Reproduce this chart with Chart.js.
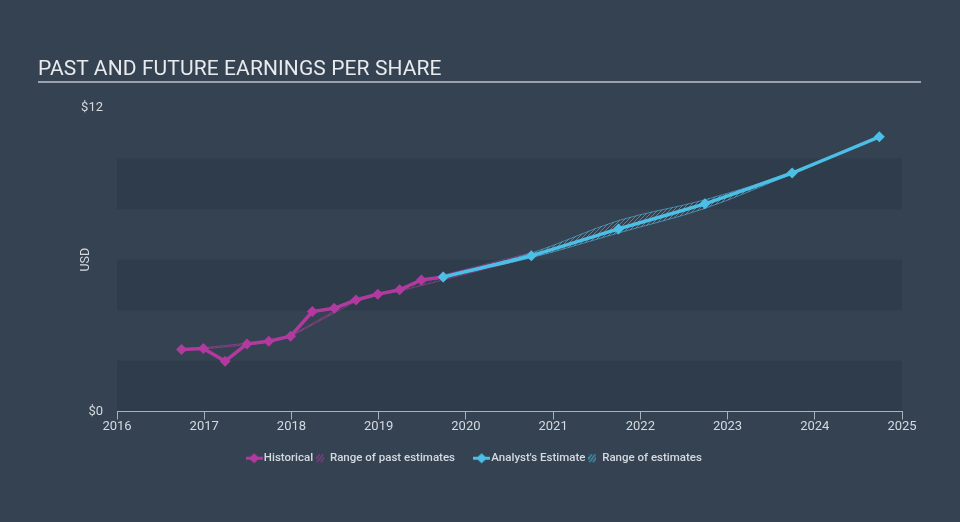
<!DOCTYPE html>
<html>
<head>
<meta charset="utf-8">
<script src="https://cdn.jsdelivr.net/npm/chart.js@4.4.1/dist/chart.umd.min.js"></script>
<style>
  html, body { margin: 0; padding: 0; background: #344252; }
  #wrap { position: relative; width: 960px; height: 522px; background: #344252; overflow: hidden; }
  #title { position: absolute; left: 38px; top: 56px; width: 883px; font-family: Roboto, sans-serif; font-size: 21px; color: #e8eaed; line-height: 24px; padding-bottom: 1px; border-bottom: 2px solid #9aa3ad; letter-spacing: 0.1px; }
  canvas { position: absolute; left: 0; top: 0; }
</style>
</head>
<body>
<div id="wrap">
  <canvas id="c" width="960" height="522"></canvas>
  <div id="title">PAST AND FUTURE EARNINGS PER SHARE</div>
</div>
<script>
// ---- data ----
const xTickYears = [2016, 2017, 2018, 2019, 2020, 2021, 2022, 2023, 2024, 2025];
const yTickValues = [0, 12];

const histX   = [2016.74, 2016.99, 2017.24, 2017.49, 2017.74, 2017.99, 2018.24, 2018.49, 2018.74, 2018.99, 2019.24, 2019.49, 2019.74];
const histEPS = [2.45, 2.49, 1.99, 2.67, 2.78, 2.98, 3.95, 4.08, 4.41, 4.64, 4.81, 5.20, 5.32];

const estX   = [2019.74, 2020.75, 2021.75, 2022.74, 2023.74, 2024.74];
const estEPS = [5.32, 6.16, 7.22, 8.21, 9.43, 10.86];

const pastRangeX    = [2016.74, 2016.99, 2017.49, 2017.74, 2017.99, 2018.74, 2018.99, 2019.24, 2019.74, 2020.75];
const pastRangeHigh = [2.45, 2.52, 2.70, 2.80, 3.00, 4.45, 4.67, 4.86, 5.40, 6.28];
const pastRangeLow  = [2.45, 2.47, 2.64, 2.75, 2.96, 4.36, 4.60, 4.76, 5.20, 6.10];

const estRangeX    = [2019.74, 2020.75, 2021.75, 2022.74, 2023.74, 2024.74];
const estRangeHigh = [5.32, 6.26, 7.55, 8.37, 9.46, 10.86];
const estRangeLow  = [5.32, 6.08, 7.06, 8.03, 9.40, 10.86];

// ---- styles ----
const PURPLE = '#b23a9f';
const CYAN = '#4bbfe6';
const BAND = 'rgba(30,40,54,0.2)';
const bandRanges = [[0, 2], [4, 6], [8, 10]];
const TEXT = '#d5dae0';
const AXIS = '#a9b1bb';

function pts(xs, ys) { return xs.map((x, i) => ({ x: x, y: ys[i] })); }

function hatch(color, size) {
  const c = document.createElement('canvas');
  c.width = size; c.height = size;
  const g = c.getContext('2d');
  g.strokeStyle = color; g.lineWidth = 1;
  g.beginPath();
  g.moveTo(0, size); g.lineTo(size, 0);
  g.moveTo(-1, 1); g.lineTo(1, -1);
  g.moveTo(size - 1, size + 1); g.lineTo(size + 1, size - 1);
  g.stroke();
  return document.getElementById('c').getContext('2d').createPattern(c, 'repeat');
}

function lineIcon(color) {
  const c = document.createElement('canvas');
  c.width = 17; c.height = 11;
  const g = c.getContext('2d');
  g.fillStyle = color; g.strokeStyle = color; g.lineWidth = 3;
  g.beginPath(); g.moveTo(0, 5.5); g.lineTo(17, 5.5); g.stroke();
  g.beginPath(); g.moveTo(8.5, 0.5); g.lineTo(14, 5.5); g.lineTo(8.5, 10.5); g.lineTo(3, 5.5); g.closePath(); g.fill();
  return c;
}
function hatchIcon(color) {
  const c = document.createElement('canvas');
  c.width = 8; c.height = 10;
  const g = c.getContext('2d');
  g.strokeStyle = color; g.lineWidth = 1.2;
  g.beginPath();
  for (let k = -6; k < 10; k += 3.5) { g.moveTo(k, 9); g.lineTo(k + 6, 1); }
  g.stroke();
  return c;
}
function blankIcon() { const c = document.createElement('canvas'); c.width = 1; c.height = 1; return c; }

const bandPlugin = {
  id: 'bands',
  beforeDraw(chart) {
    const { ctx, chartArea, scales } = chart;
    const y = scales.y;
    ctx.save();
    ctx.fillStyle = BAND;
    for (const [a, b] of bandRanges) {
      const top = y.getPixelForValue(b), bot = y.getPixelForValue(a);
      ctx.fillRect(chartArea.left, top, chartArea.right - chartArea.left, bot - top);
    }
    ctx.restore();
  }
};

const legendItems = [
  { text: 'Historical', pointStyle: lineIcon(PURPLE) },
  { text: 'Range of past estimates', pointStyle: hatchIcon('rgba(178,58,159,0.85)') },
  { text: ' ', pointStyle: blankIcon() },
  { text: "Analyst's Estimate", pointStyle: lineIcon(CYAN) },
  { text: 'Range of estimates', pointStyle: hatchIcon('rgba(75,191,230,0.85)') }
];

new Chart(document.getElementById('c'), {
  type: 'line',
  data: {
    datasets: [
      { label: "Analyst's Estimate", data: pts(estX, estEPS), borderColor: CYAN, backgroundColor: CYAN, borderWidth: 3.5,
        pointStyle: 'rectRot', pointRadius: 5.5, pointBackgroundColor: CYAN, pointBorderWidth: 0, fill: false, order: 0, tension: 0.1 },
      { label: 'Historical', data: pts(histX, histEPS), borderColor: PURPLE, backgroundColor: PURPLE, borderWidth: 3.5,
        pointStyle: 'rectRot', pointRadius: 5.5, pointBackgroundColor: PURPLE, pointBorderWidth: 0, fill: false, order: 1, tension: 0 },
      { label: 'Range of estimates high', data: pts(estRangeX, estRangeHigh), borderColor: 'rgba(75,191,230,0.6)', borderWidth: 1,
        pointRadius: 0, fill: 3, backgroundColor: hatch('rgba(75,191,230,0.6)', 4), order: 2, cubicInterpolationMode: 'monotone' },
      { label: 'Range of estimates low', data: pts(estRangeX, estRangeLow), borderColor: 'rgba(75,191,230,0.6)', borderWidth: 1,
        pointRadius: 0, fill: false, order: 3, cubicInterpolationMode: 'monotone' },
      { label: 'Range of past estimates high', data: pts(pastRangeX, pastRangeHigh), borderColor: 'rgba(178,58,159,0.6)', borderWidth: 1,
        pointRadius: 0, fill: 5, backgroundColor: hatch('rgba(178,58,159,0.55)', 4), order: 4, tension: 0 },
      { label: 'Range of past estimates low', data: pts(pastRangeX, pastRangeLow), borderColor: 'rgba(178,58,159,0.6)', borderWidth: 1,
        pointRadius: 0, fill: false, order: 5, tension: 0 }
    ]
  },
  options: {
    responsive: false,
    animation: false,
    devicePixelRatio: 1,
    layout: { padding: { left: 50, right: 58, top: 108, bottom: 48 } },
    plugins: {
      tooltip: { enabled: false },
      title: { display: false },
      legend: {
        position: 'bottom',
        labels: {
          usePointStyle: true,
          pointStyleWidth: 8,
          padding: 3,
          color: TEXT,
          font: { family: 'Roboto', size: 11.5, weight: '500' },
          generateLabels: () => legendItems.map((it, i) => ({
            text: it.text, pointStyle: it.pointStyle, fillStyle: 'transparent', strokeStyle: 'transparent',
            lineWidth: 0, hidden: false, index: i, fontColor: TEXT
          }))
        },
        onClick: () => {}
      }
    },
    scales: {
      x: {
        type: 'linear',
        min: 2016, max: 2025,
        afterBuildTicks: (s) => { s.ticks = xTickYears.map(v => ({ value: v })); },
        afterFit: (s) => { s.height = 38; },
        ticks: { color: TEXT, font: { family: 'Roboto', size: 13 }, padding: -1, maxRotation: 0, autoSkip: false,
                 callback: (v) => String(v) },
        grid: { display: true, drawOnChartArea: false, drawTicks: true, tickLength: 8, color: AXIS, lineWidth: 1 },
        border: { display: true, color: AXIS, width: 1 }
      },
      y: {
        type: 'linear',
        min: 0, max: 12,
        afterBuildTicks: (s) => { s.ticks = yTickValues.map(v => ({ value: v })); },
        afterFit: (s) => { s.width = 67; },
        ticks: { color: TEXT, font: { family: 'Roboto', size: 13 }, padding: 14, callback: (v) => '$' + v },
        grid: { display: false, drawTicks: false },
        border: { display: false },
        title: { display: true, text: 'USD', color: TEXT, font: { family: 'Roboto', size: 12.5 }, padding: { top: 28, bottom: 0 } }
      }
    }
  },
  plugins: [bandPlugin]
});
</script>
</body>
</html>
